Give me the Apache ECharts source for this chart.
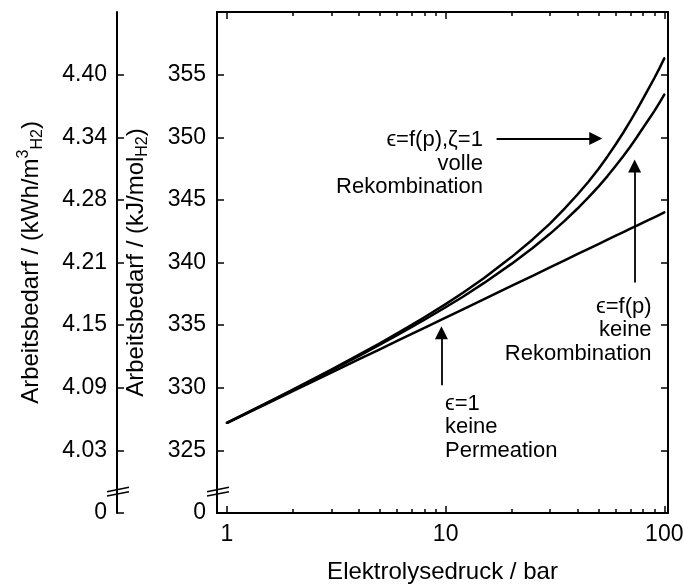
<!DOCTYPE html>
<html><head><meta charset="utf-8">
<script src="https://cdn.jsdelivr.net/npm/echarts@6/dist/echarts.min.js"></script>
<style>html,body{margin:0;padding:0;background:#fff}#c{width:683px;height:585px}</style>
</head><body><div id="c"></div>
<script>
// ---- data ----
const pressure = [1, 1.5, 2, 3, 4, 5, 6, 7, 8, 10, 12, 15, 20, 25, 30, 35, 40, 45, 50, 55, 60, 65, 70, 75, 80, 85, 90, 95, 100];
const workFullRecomb = [327.2, 328.74, 329.85, 331.45, 332.62, 333.55, 334.34, 335.02, 335.63, 336.68, 337.58, 338.76, 340.43, 341.84, 343.11, 344.3, 345.41, 346.45, 347.47, 348.47, 349.44, 350.38, 351.30, 352.2, 353.09, 353.92, 354.71, 355.5, 356.3];
const workNoRecomb = [327.2, 328.73, 329.82, 331.39, 332.53, 333.44, 334.2, 334.85, 335.43, 336.43, 337.27, 338.37, 339.89, 341.16, 342.29, 343.32, 344.29, 345.2, 346.06, 346.9, 347.72, 348.5, 349.27, 350.02, 350.76, 351.44, 352.09, 352.75, 353.4];
const workNoPermeation = [327.2, 328.68, 329.73, 331.21, 332.26, 333.07, 333.74, 334.30, 334.79, 335.6, 336.26, 337.08, 338.13, 338.94, 339.61, 340.17, 340.66, 341.09, 341.47, 341.82, 342.14, 342.43, 342.70, 342.95, 343.19, 343.41, 343.61, 343.81, 344.0];

const xMajorTicks = [1, 10, 100];
const xMinorTicks = [2, 3, 4, 5, 6, 7, 8, 9, 20, 30, 40, 50, 60, 70, 80, 90];
const yTicks = [320, 325, 330, 335, 340, 345, 350, 355];
const yInnerTicks = [325, 330, 335, 340, 345, 350, 355];
const yLabelsKJ = ['0', '325', '330', '335', '340', '345', '350', '355'];
const yLabelsKWh = ['0', '4.03', '4.09', '4.15', '4.21', '4.28', '4.34', '4.40'];

// annotations: [pressure, value] anchors
const annTexts = ['ϵ=f(p),ζ=1\nvolle\nRekombination', 'ϵ=f(p)\nkeine\nRekombination', 'ϵ=1\nkeine\nPermeation'];
const annAnchors = [[14.8, 347.9], [87.5, 334.6], [9.93, 326.85]];
const annAlign = ['right', 'right', 'left'];
const arrowStarts = [[17.1, 349.9], [73.2, 338.4], [9.57, 330.2]];
const arrowEnds = [[48.6, 349.9], [73.2, 347.7], [9.57, 334.4]];
const breakValue = 321.7;

// ---- chart ----
const FONT = "'Liberation Sans', Arial, Helvetica, sans-serif";
const K = '#000';
const chart = echarts.init(document.getElementById('c'), null, {renderer: 'canvas'});
const pairs = ys => pressure.map((p, i) => [p, ys[i]]);

function xAx(pos, major, withLabels) {
  return {
    type: 'log', logBase: 10, min: 0.9, max: 104, position: pos,
    splitLine: {show: false},
    axisLine: {show: true, lineStyle: {color: K, width: 2}},
    axisTick: {show: true, inside: true, length: major ? 7 : 4, lineStyle: {color: K, width: 1.5},
               customValues: major ? xMajorTicks : xMinorTicks},
    axisLabel: withLabels ? {show: true, customValues: xMajorTicks, formatter: v => String(v),
               color: K, fontSize: 23, fontFamily: FONT, margin: 10} : {show: false},
    minorTick: {show: false}
  };
}

const xAxes = [xAx('bottom', true, true), xAx('top', true, false), xAx('bottom', false, false), xAx('top', false, false)];
xAxes[0].name = 'Elektrolysedruck / bar';
xAxes[0].nameLocation = 'middle';
xAxes[0].nameGap = 47;
xAxes[0].nameTextStyle = {color: K, fontSize: 24, fontFamily: FONT};

const yBase = {type: 'value', min: 320, max: 360, interval: 5, splitLine: {show: false}};
const richName = {
  n: {fontSize: 24, fontFamily: FONT, color: K, lineHeight: 30},
  sub: {fontSize: 16, fontFamily: FONT, color: K, lineHeight: 14, verticalAlign: 'bottom'},
  sup: {fontSize: 16, fontFamily: FONT, color: K, lineHeight: 14, verticalAlign: 'top'}
};
const yAxes = [
  Object.assign({}, yBase, {
    position: 'left',
    axisLine: {show: true, lineStyle: {color: K, width: 2}},
    axisTick: {show: true, inside: true, length: 7, customValues: yInnerTicks, lineStyle: {color: K, width: 1.5}},
    axisLabel: {show: true, customValues: yTicks, formatter: v => yLabelsKJ[yTicks.indexOf(v)],
                color: K, fontSize: 23, fontFamily: FONT, margin: 11},
    name: '{n|Arbeitsbedarf / (kJ/mol}{sub|H2}{n|)}',
    nameLocation: 'middle', nameRotate: 90, nameGap: 66,
    nameTextStyle: {color: K, fontSize: 24, fontFamily: FONT, rich: richName}
  }),
  Object.assign({}, yBase, {
    position: 'left', offset: 100,
    axisLine: {show: true, lineStyle: {color: K, width: 2}},
    axisTick: {show: true, inside: true, length: 7, customValues: yTicks, lineStyle: {color: K, width: 1.5}},
    axisLabel: {show: true, customValues: yTicks, formatter: v => yLabelsKWh[yTicks.indexOf(v)],
                color: K, fontSize: 23, fontFamily: FONT, margin: 10},
    name: '{n|Arbeitsbedarf / (kWh/m}{sup|3}{sub|H2}{n|)}',
    nameLocation: 'middle', nameRotate: 90, nameGap: 71,
    nameTextStyle: {color: K, fontSize: 24, fontFamily: FONT, rich: richName}
  }),
  Object.assign({}, yBase, {
    position: 'right',
    axisLine: {show: true, lineStyle: {color: K, width: 2}},
    axisTick: {show: true, inside: true, length: 7, customValues: yInnerTicks, lineStyle: {color: K, width: 1.5}},
    axisLabel: {show: false}
  })
];

function lineSeries(name, ys) {
  return {
    name, type: 'line', xAxisIndex: 0, yAxisIndex: 0, data: pairs(ys),
    showSymbol: false, symbol: 'none', smooth: false,
    lineStyle: {color: K, width: 2.5, join: 'round', cap: 'round'}, silent: true
  };
}

const series = [
  lineSeries('full', workFullRecomb),
  lineSeries('norecomb', workNoRecomb),
  lineSeries('noperm', workNoPermeation)
];
series[2].markLine = {
  silent: true, animation: false,
  symbol: ['none', 'triangle'], symbolSize: 13,
  label: {show: false},
  lineStyle: {color: K, width: 1.8, type: 'solid'},
  data: arrowStarts.map((s, i) => [{coord: s}, {coord: arrowEnds[i]}])
};

chart.setOption({
  animation: false,
  backgroundColor: '#fff',
  grid: {left: 217, right: 15, top: 12, bottom: 72, containLabel: false, outerBoundsMode: 'none'},
  xAxis: xAxes,
  yAxis: yAxes,
  series
});

// annotations and axis-break marks
const graphics = [];
annTexts.forEach((t, i) => {
  const pt = chart.convertToPixel({xAxisIndex: 0, yAxisIndex: 0}, annAnchors[i]);
  graphics.push({
    type: 'text', x: pt[0], y: pt[1], silent: true,
    style: {text: t, fill: K, fontSize: 22, fontFamily: FONT, align: annAlign[i], verticalAlign: 'middle', lineHeight: 23.5}
  });
});
const axX = chart.convertToPixel({xAxisIndex: 0}, 0.9);
const yb = chart.convertToPixel({yAxisIndex: 0}, breakValue);
[axX, axX - 100].forEach(X => {
  [-2.2, 2.2].forEach(d => {
    graphics.push({
      type: 'line', silent: true,
      shape: {x1: X - 10, y1: yb + d + 2.2, x2: X + 12, y2: yb + d - 2.2},
      style: {stroke: K, lineWidth: 1.5}
    });
  });
});
chart.setOption({graphic: graphics});
</script>
</body></html>
